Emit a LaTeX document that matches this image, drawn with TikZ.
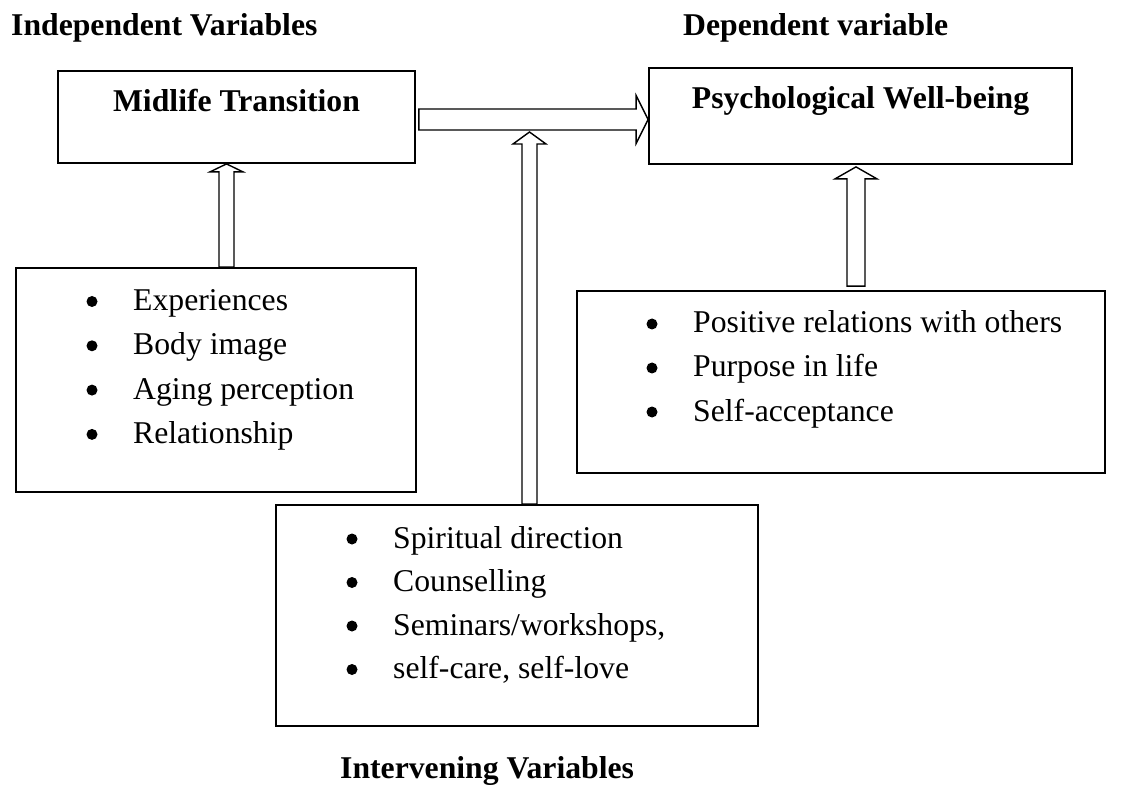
\documentclass[tikz,border=0pt]{standalone}
\usepackage{fontspec}
\setmainfont{Liberation Serif}
\usetikzlibrary{calc,fit}
\newcommand\vblock[5]{%
  \draw[blockarrow] let \p1=(#1), \p2=(#2) in
   (\x1-#3,\y1) -- (\x1-#3,\y2-#5) -- (\x1-#4,\y2-#5) -- (\x1,\y2) -- (\x1+#4,\y2-#5) -- (\x1+#3,\y2-#5) -- (\x1+#3,\y1) -- cycle;}
\newcommand\hblock[5]{%
  \draw[blockarrow] let \p1=(#1), \p2=(#2) in
   (\x1,\y1-#3) -- (\x2-#5,\y1-#3) -- (\x2-#5,\y1-#4) -- (\x2,\y1) -- (\x2-#5,\y1+#4) -- (\x2-#5,\y1+#3) -- (\x1,\y1+#3) -- cycle;}
\tikzset{
  boxst/.style={draw, line width=1.8pt, inner sep=0pt},
  blockarrow/.style={draw, line width=1.4pt, fill=white, line join=miter},
  txt/.style={anchor=base west, inner sep=0pt, font=\fontsize{31.7pt}{38pt}\selectfont},
  dot/.style={circle, fill=black, inner sep=0pt, minimum size=11pt, yshift=9pt},
  head/.style={anchor=base west, inner sep=0pt, font=\fontsize{31.7pt}{38pt}\selectfont\bfseries},
}
\begin{document}
\begin{tikzpicture}[x=1pt,y=1pt]
\useasboundingbox[fill=white] (0,0) rectangle (1141,-786);
% headings
\node[head] (hind) at (11,-36) {Independent Variables};
\node[head] (hdep) at (683,-36) {Dependent variable};
\node[head] (hint) at (340,-778) {Intervening Variables};
% boxes
\node[boxst, fit={(58,-71) (415,-163)}] (mt) {};
\node[boxst, fit={(649,-68) (1072,-164)}] (pw) {};
\node[boxst, fit={(16,-268) (416,-492)}] (lb) {};
\node[boxst, fit={(577,-291) (1105,-473)}] (rb) {};
\node[boxst, fit={(276,-505) (758,-726)}] (mb) {};
% titles
\node[head, anchor=base] (mtt) at (236.5,-112) {Midlife Transition};
\node[head, anchor=base] (pwt) at (860.5,-109) {Psychological Well-being};
% left list
\node[dot] (lb1) at (92,-310.5) {};
\node[txt] (lt1) at (133,-310.5) {Experiences};
\node[dot] (lb2) at (92,-354.8) {};
\node[txt] (lt2) at (133,-354.8) {Body image};
\node[dot] (lb3) at (92,-399.1) {};
\node[txt] (lt3) at (133,-399.1) {Aging perception};
\node[dot] (lb4) at (92,-443.4) {};
\node[txt] (lt4) at (133,-443.4) {Relationship};
% right list
\node[dot] (rb1) at (652,-333) {};
\node[txt] (rt1) at (693,-333) {Positive relations with others};
\node[dot] (rb2) at (652,-377) {};
\node[txt] (rt2) at (693,-377) {Purpose in life};
\node[dot] (rb3) at (652,-421) {};
\node[txt] (rt3) at (693,-421) {Self-acceptance};
% middle list
\node[dot] (mb1) at (352,-548) {};
\node[txt] (mt1) at (393,-548) {Spiritual direction};
\node[dot] (mb2) at (352,-591.5) {};
\node[txt] (mt2) at (393,-591.5) {Counselling};
\node[dot] (mb3) at (352,-635) {};
\node[txt] (mt3) at (393,-635) {Seminars/workshops,};
\node[dot] (mb4) at (352,-678.5) {};
\node[txt] (mt4) at (393,-678.5) {self-care, self-love};
% arrow helper coordinates
\coordinate (hy) at (0,-119.5);
\coordinate (ax) at (226.5,0);
\coordinate (bx) at (856,0);
\coordinate (vtip) at (529.5,-132);
% arrows
\hblock{[xshift=3pt]mt.east |- hy}{pw.west |- hy}{10.5pt}{24pt}{12pt}
\vblock{lb.north -| ax}{mt.south -| ax}{7.5pt}{16.5pt}{8pt}
\vblock{[yshift=4pt]rb.north -| bx}{[yshift=-2pt]pw.south -| bx}{9pt}{21pt}{12pt}
\vblock{mb.north -| vtip}{vtip}{7.5pt}{16.5pt}{12pt}
\end{tikzpicture}
\end{document}
